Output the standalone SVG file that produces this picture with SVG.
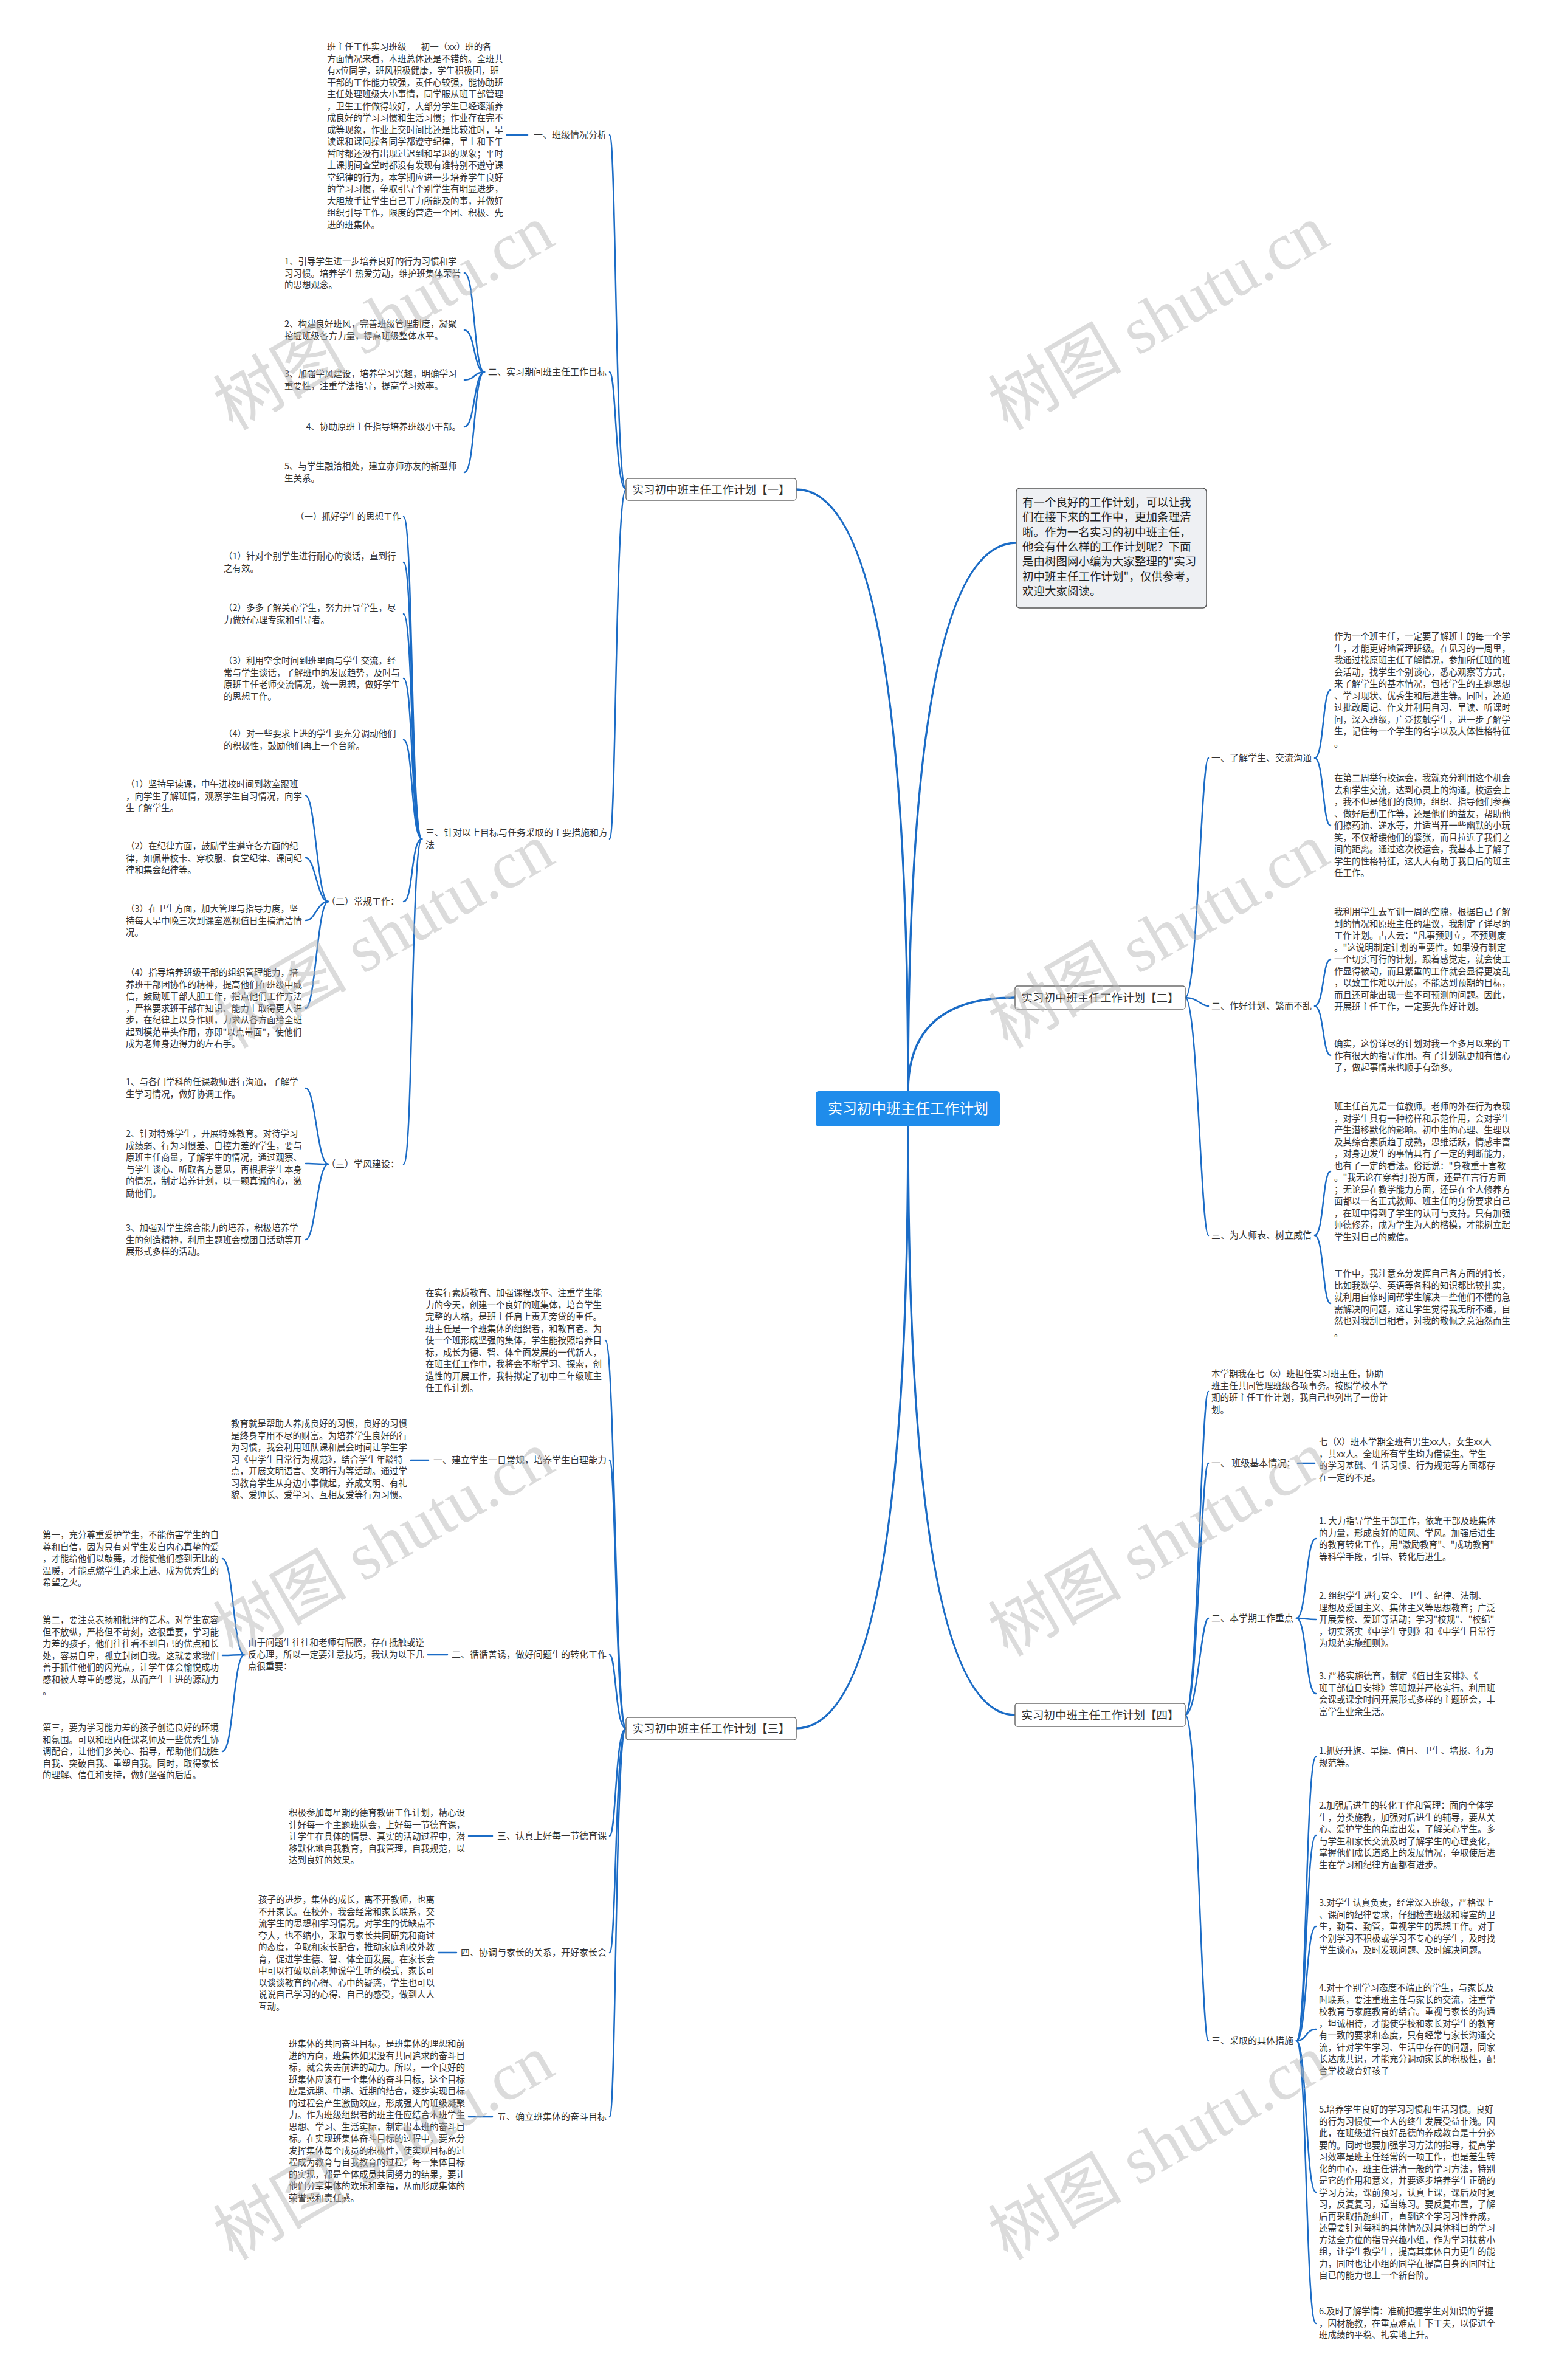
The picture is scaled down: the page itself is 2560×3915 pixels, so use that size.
<svg xmlns="http://www.w3.org/2000/svg" width="2560" height="3915" viewBox="0 0 2560 3915">
<style>
.t{font-family:"Noto Sans CJK SC","Noto Sans",sans-serif;font-size:14.5px;fill:#333}
.lb{font-family:"Noto Sans CJK SC","Noto Sans",sans-serif;font-size:15px;fill:#333}
.e{text-anchor:end}
.c{fill:none;stroke:#1b6cc6;stroke-width:2.5;stroke-linecap:round}
.c1{fill:none;stroke:#1b6cc6;stroke-width:3.5;stroke-linecap:round}
.bn{fill:#fff;stroke:#6b6b6b;stroke-width:1.5}
.bt{font-family:"Noto Sans CJK SC",sans-serif;font-size:18.5px;fill:#333;text-anchor:middle}
.wm{font-family:"Liberation Serif","Noto Sans CJK SC",serif;font-size:110px;fill:#b8b8b8;opacity:.5;text-anchor:middle}
</style>
<rect width="2560" height="3915" fill="#fff"/>
<g id="connectors">
<path class="c1" d="M1494,1795 Q1494,805 1310,805"/>
<path class="c1" d="M1494,1795 Q1494,893 1672,893"/>
<path class="c1" d="M1494,1795 Q1494,1641 1670,1641"/>
<path class="c1" d="M1494,1853 Q1494,2843 1310,2843"/>
<path class="c1" d="M1494,1853 Q1494,2821 1670,2821"/>
<path class="c" d="M1030,805 C1012,805 1014,222 1003,222"/>
<path class="c" d="M1030,805 C1012,805 1014,612 1003,612"/>
<path class="c" d="M1030,805 C1012,805 1014,1380 1003,1380"/>
<path class="c" d="M834,222 H868"/>
<path class="c" d="M797,612 C779,612 782,449 764,449"/>
<path class="c" d="M797,612 C779,612 782,543 764,543"/>
<path class="c" d="M797,612 C779,612 782,625 764,625"/>
<path class="c" d="M797,612 C779,612 782,702 764,702"/>
<path class="c" d="M797,612 C779,612 782,777 764,777"/>
<path class="c" d="M694,1380 C676,1380 680,850 664,850"/>
<path class="c" d="M694,1380 C676,1380 680,925 664,925"/>
<path class="c" d="M694,1380 C676,1380 680,1010 664,1010"/>
<path class="c" d="M694,1380 C676,1380 680,1116 664,1116"/>
<path class="c" d="M694,1380 C676,1380 680,1217 664,1217"/>
<path class="c" d="M694,1380 C676,1380 680,1483 664,1483"/>
<path class="c" d="M694,1380 C676,1380 680,1915 664,1915"/>
<path class="c" d="M540,1483 C522,1483 519,1309 503,1309"/>
<path class="c" d="M540,1483 C522,1483 519,1411 503,1411"/>
<path class="c" d="M540,1483 C522,1483 519,1514 503,1514"/>
<path class="c" d="M540,1483 C522,1483 519,1658 503,1658"/>
<path class="c" d="M540,1915 C522,1915 519,1790 503,1790"/>
<path class="c" d="M540,1915 C522,1915 519,1914 503,1914"/>
<path class="c" d="M540,1915 C522,1915 519,2039 503,2039"/>
<path class="c" d="M1030,2843 C1012,2843 1012,2205 996,2205"/>
<path class="c" d="M1030,2843 C1012,2843 1014,2402 1003,2402"/>
<path class="c" d="M1030,2843 C1012,2843 1014,2722 1003,2722"/>
<path class="c" d="M1030,2843 C1012,2843 1014,3020 1003,3020"/>
<path class="c" d="M1030,2843 C1012,2843 1014,3212 1003,3212"/>
<path class="c" d="M1030,2843 C1012,2843 1014,3482 1003,3482"/>
<path class="c" d="M676,2402 H705"/>
<path class="c" d="M704,2722 H736"/>
<path class="c" d="M771,3020 H810"/>
<path class="c" d="M721,3212 H751"/>
<path class="c" d="M771,3482 H810"/>
<path class="c" d="M402,2722 C384,2722 384,2564 366,2564"/>
<path class="c" d="M402,2722 C384,2722 384,2723 366,2723"/>
<path class="c" d="M402,2722 C384,2722 384,2881 366,2881"/>
<path class="c" d="M1950,1641 C1970,1641 1976,1247 1988,1247"/>
<path class="c" d="M1950,1641 C1970,1641 1976,1655 1988,1655"/>
<path class="c" d="M1950,1641 C1970,1641 1976,2032 1988,2032"/>
<path class="c" d="M2163,1247 C2178,1247 2176,1135 2189,1135"/>
<path class="c" d="M2163,1247 C2178,1247 2176,1358 2189,1358"/>
<path class="c" d="M2163,1655 C2178,1655 2176,1578 2189,1578"/>
<path class="c" d="M2163,1655 C2178,1655 2176,1736 2189,1736"/>
<path class="c" d="M2163,2032 C2178,2032 2176,1927 2189,1927"/>
<path class="c" d="M2163,2032 C2178,2032 2176,2144 2189,2144"/>
<path class="c" d="M1950,2821 C1970,2821 1976,2289 1988,2289"/>
<path class="c" d="M1950,2821 C1970,2821 1976,2407 1988,2407"/>
<path class="c" d="M1950,2821 C1970,2821 1976,2662 1988,2662"/>
<path class="c" d="M1950,2821 C1970,2821 1976,3357 1988,3357"/>
<path class="c" d="M2135,2407 H2163"/>
<path class="c" d="M2133,2662 C2150,2662 2148,2531 2165,2531"/>
<path class="c" d="M2133,2662 C2150,2662 2148,2664 2165,2664"/>
<path class="c" d="M2133,2662 C2150,2662 2148,2786 2165,2786"/>
<path class="c" d="M2133,3357 C2150,3357 2148,2890 2165,2890"/>
<path class="c" d="M2133,3357 C2150,3357 2148,3019 2165,3019"/>
<path class="c" d="M2133,3357 C2150,3357 2148,3169 2165,3169"/>
<path class="c" d="M2133,3357 C2150,3357 2148,3338 2165,3338"/>
<path class="c" d="M2133,3357 C2150,3357 2148,3606 2165,3606"/>
<path class="c" d="M2133,3357 C2150,3357 2148,3822 2165,3822"/>
</g>
<g id="n-root"><rect x="1342" y="1795" width="303" height="58" rx="5" fill="#1f8ceb"/><text x="1494" y="1832" font-family="Noto Sans CJK SC,sans-serif" font-size="24" fill="#fff" text-anchor="middle">实习初中班主任工作计划</text></g>
<g id="n-b1"><rect class="bn" x="1030" y="787" width="280" height="36" rx="4"/><text class="bt" x="1170" y="812">实习初中班主任工作计划【一】</text></g>
<g id="n-b2"><rect class="bn" x="1670" y="1622" width="280" height="38" rx="4"/><text class="bt" x="1810" y="1648">实习初中班主任工作计划【二】</text></g>
<g id="n-b3"><rect class="bn" x="1030" y="2825" width="280" height="37" rx="4"/><text class="bt" x="1170" y="2850">实习初中班主任工作计划【三】</text></g>
<g id="n-b4"><rect class="bn" x="1670" y="2802" width="280" height="38" rx="4"/><text class="bt" x="1810" y="2828">实习初中班主任工作计划【四】</text></g>
<g id="n-intro"><rect x="1672" y="803" width="313" height="197" rx="6" fill="#eef0f3" stroke="#555" stroke-width="1.5"/><text font-family="Noto Sans CJK SC,sans-serif" font-size="18.5" fill="#222"><tspan x="1682" y="833">有一个良好的工作计划，可以让我</tspan><tspan x="1682" dy="24.3">们在接下来的工作中，更加条理清</tspan><tspan x="1682" dy="24.3">晰。作为一名实习的初中班主任，</tspan><tspan x="1682" dy="24.3">他会有什么样的工作计划呢？下面</tspan><tspan x="1682" dy="24.3">是由树图网小编为大家整理的"实习</tspan><tspan x="1682" dy="24.3">初中班主任工作计划"，仅供参考，</tspan><tspan x="1682" dy="24.3">欢迎大家阅读。</tspan></text></g>
<g id="n-1-1"><text class="lb e" x="998" y="227">一、班级情况分析</text></g>
<g id="n-1-1-p"><text class="t"><tspan x="538" y="82">班主任工作实习班级——初一（xx）班的各</tspan><tspan x="538" dy="19.5">方面情况来看，本班总体还是不错的。全班共</tspan><tspan x="538" dy="19.5">有x位同学，班风积极健康，学生积极团，班</tspan><tspan x="538" dy="19.5">干部的工作能力较强，责任心较强，能协助班</tspan><tspan x="538" dy="19.5">主任处理班级大小事情，同学服从班干部管理</tspan><tspan x="538" dy="19.5">，卫生工作做得较好，大部分学生已经逐渐养</tspan><tspan x="538" dy="19.5">成良好的学习习惯和生活习惯；作业存在完不</tspan><tspan x="538" dy="19.5">成等现象，作业上交时间比还是比较准时，早</tspan><tspan x="538" dy="19.5">读课和课间操各同学都遵守纪律，早上和下午</tspan><tspan x="538" dy="19.5">暂时都还没有出现过迟到和早退的现象；平时</tspan><tspan x="538" dy="19.5">上课期间查堂时都没有发现有谁特别不遵守课</tspan><tspan x="538" dy="19.5">堂纪律的行为，本学期应进一步培养学生良好</tspan><tspan x="538" dy="19.5">的学习习惯，争取引导个别学生有明显进步，</tspan><tspan x="538" dy="19.5">大胆放手让学生自己干力所能及的事，并做好</tspan><tspan x="538" dy="19.5">组织引导工作，限度的营造一个团、积极、先</tspan><tspan x="538" dy="19.5">进的班集体。</tspan></text></g>
<g id="n-1-2"><text class="lb e" x="998" y="617">二、实习期间班主任工作目标</text></g>
<g id="n-1-2-1"><text class="t"><tspan x="468" y="435">1、引导学生进一步培养良好的行为习惯和学</tspan><tspan x="468" dy="19.5">习习惯。培养学生热爱劳动，维护班集体荣誉</tspan><tspan x="468" dy="19.5">的思想观念。</tspan></text></g>
<g id="n-1-2-2"><text class="t"><tspan x="468" y="538">2、构建良好班风，完善班级管理制度，凝聚</tspan><tspan x="468" dy="19.5">挖掘班级各方力量，提高班级整体水平。</tspan></text></g>
<g id="n-1-2-3"><text class="t"><tspan x="468" y="620">3、加强学风建设，培养学习兴趣，明确学习</tspan><tspan x="468" dy="19.5">重要性，注重学法指导，提高学习效率。</tspan></text></g>
<g id="n-1-2-4"><text class="t e" x="758" y="707">4、协助原班主任指导培养班级小干部。</text></g>
<g id="n-1-2-5"><text class="t"><tspan x="468" y="772">5、与学生融洽相处，建立亦师亦友的新型师</tspan><tspan x="468" dy="19.5">生关系。</tspan></text></g>
<g id="n-1-3"><text class="lb"><tspan x="700" y="1375">三、针对以上目标与任务采取的主要措施和方</tspan><tspan x="700" dy="20">法</tspan></text></g>
<g id="n-1-3-a"><text class="t e" x="660" y="855">（一）抓好学生的思想工作</text></g>
<g id="n-1-3-1"><text class="t"><tspan x="368" y="920">（1）针对个别学生进行耐心的谈话，直到行</tspan><tspan x="368" dy="19.5">之有效。</tspan></text></g>
<g id="n-1-3-2"><text class="t"><tspan x="368" y="1005">（2）多多了解关心学生，努力开导学生，尽</tspan><tspan x="368" dy="19.5">力做好心理专家和引导者。</tspan></text></g>
<g id="n-1-3-3"><text class="t"><tspan x="368" y="1092">（3）利用空余时间到班里面与学生交流，经</tspan><tspan x="368" dy="19.5">常与学生谈话，了解班中的发展趋势，及时与</tspan><tspan x="368" dy="19.5">原班主任老师交流情况，统一思想，做好学生</tspan><tspan x="368" dy="19.5">的思想工作。</tspan></text></g>
<g id="n-1-3-4"><text class="t"><tspan x="368" y="1212">（4）对一些要求上进的学生要充分调动他们</tspan><tspan x="368" dy="19.5">的积极性，鼓励他们再上一个台阶。</tspan></text></g>
<g id="n-1-3-b"><text class="lb e" x="657" y="1488">（二）常规工作：</text></g>
<g id="n-1-3-b1"><text class="t"><tspan x="207" y="1295">（1）坚持早读课，中午进校时间到教室跟班</tspan><tspan x="207" dy="19.5">，向学生了解班情，观察学生自习情况，向学</tspan><tspan x="207" dy="19.5">生了解学生。</tspan></text></g>
<g id="n-1-3-b2"><text class="t"><tspan x="207" y="1397">（2）在纪律方面，鼓励学生遵守各方面的纪</tspan><tspan x="207" dy="19.5">律，如佩带校卡、穿校服、食堂纪律、课间纪</tspan><tspan x="207" dy="19.5">律和集会纪律等。</tspan></text></g>
<g id="n-1-3-b3"><text class="t"><tspan x="207" y="1500">（3）在卫生方面，加大管理与指导力度，坚</tspan><tspan x="207" dy="19.5">持每天早中晚三次到课室巡视值日生搞清洁情</tspan><tspan x="207" dy="19.5">况。</tspan></text></g>
<g id="n-1-3-b4"><text class="t"><tspan x="207" y="1605">（4）指导培养班级干部的组织管理能力，培</tspan><tspan x="207" dy="19.5">养班干部团协作的精神，提高他们在班级中威</tspan><tspan x="207" dy="19.5">信，鼓励班干部大胆工作，指点他们工作方法</tspan><tspan x="207" dy="19.5">，严格要求班干部在知识、能力上取得更大进</tspan><tspan x="207" dy="19.5">步，在纪律上以身作则，力求从各方面给全班</tspan><tspan x="207" dy="19.5">起到模范带头作用，亦即"以点带面"，使他们</tspan><tspan x="207" dy="19.5">成为老师身边得力的左右手。</tspan></text></g>
<g id="n-1-3-c"><text class="lb e" x="657" y="1920">（三）学风建设：</text></g>
<g id="n-1-3-c1"><text class="t"><tspan x="207" y="1785">1、与各门学科的任课教师进行沟通，了解学</tspan><tspan x="207" dy="19.5">生学习情况，做好协调工作。</tspan></text></g>
<g id="n-1-3-c2"><text class="t"><tspan x="207" y="1870">2、针对特殊学生，开展特殊教育。对待学习</tspan><tspan x="207" dy="19.5">成绩弱、行为习惯差、自控力差的学生，要与</tspan><tspan x="207" dy="19.5">原班主任商量，了解学生的情况，通过观察、</tspan><tspan x="207" dy="19.5">与学生谈心、听取各方意见，再根据学生本身</tspan><tspan x="207" dy="19.5">的情况，制定培养计划，以一颗真诚的心，激</tspan><tspan x="207" dy="19.5">励他们。</tspan></text></g>
<g id="n-1-3-c3"><text class="t"><tspan x="207" y="2025">3、加强对学生综合能力的培养，积极培养学</tspan><tspan x="207" dy="19.5">生的创造精神，利用主题班会或团日活动等开</tspan><tspan x="207" dy="19.5">展形式多样的活动。</tspan></text></g>
<g id="n-3-0"><text class="t"><tspan x="700" y="2132">在实行素质教育、加强课程改革、注重学生能</tspan><tspan x="700" dy="19.5">力的今天，创建一个良好的班集体，培育学生</tspan><tspan x="700" dy="19.5">完整的人格，是班主任肩上责无旁贷的重任。</tspan><tspan x="700" dy="19.5">班主任是一个班集体的组织者，和教育者。为</tspan><tspan x="700" dy="19.5">使一个班形成坚强的集体，学生能按照培养目</tspan><tspan x="700" dy="19.5">标，成长为德、智、体全面发展的一代新人，</tspan><tspan x="700" dy="19.5">在班主任工作中，我将会不断学习、探索，创</tspan><tspan x="700" dy="19.5">造性的开展工作，我特拟定了初中二年级班主</tspan><tspan x="700" dy="19.5">任工作计划。</tspan></text></g>
<g id="n-3-1"><text class="lb e" x="998" y="2407">一、建立学生一日常规，培养学生自理能力</text></g>
<g id="n-3-1-p"><text class="t"><tspan x="380" y="2347">教育就是帮助人养成良好的习惯，良好的习惯</tspan><tspan x="380" dy="19.5">是终身享用不尽的财富。为培养学生良好的行</tspan><tspan x="380" dy="19.5">为习惯，我会利用班队课和晨会时间让学生学</tspan><tspan x="380" dy="19.5">习《中学生日常行为规范》，结合学生年龄特</tspan><tspan x="380" dy="19.5">点，开展文明语言、文明行为等活动。通过学</tspan><tspan x="380" dy="19.5">习教育学生从身边小事做起，养成文明、有礼</tspan><tspan x="380" dy="19.5">貌、爱师长、爱学习、互相友爱等行为习惯。</tspan></text></g>
<g id="n-3-2"><text class="lb e" x="998" y="2727">二、循循善诱，做好问题生的转化工作</text></g>
<g id="n-3-2-p"><text class="t"><tspan x="408" y="2707">由于问题生往往和老师有隔膜，存在抵触或逆</tspan><tspan x="408" dy="19.5">反心理，所以一定要注意技巧，我认为以下几</tspan><tspan x="408" dy="19.5">点很重要：</tspan></text></g>
<g id="n-3-2-1"><text class="t"><tspan x="70" y="2530">第一，充分尊重爱护学生，不能伤害学生的自</tspan><tspan x="70" dy="19.5">尊和自信，因为只有对学生发自内心真挚的爱</tspan><tspan x="70" dy="19.5">，才能给他们以鼓舞，才能使他们感到无比的</tspan><tspan x="70" dy="19.5">温暖，才能点燃学生追求上进、成为优秀生的</tspan><tspan x="70" dy="19.5">希望之火。</tspan></text></g>
<g id="n-3-2-2"><text class="t"><tspan x="70" y="2670">第二，要注意表扬和批评的艺术。对学生宽容</tspan><tspan x="70" dy="19.5">但不放纵，严格但不苛刻，这很重要，学习能</tspan><tspan x="70" dy="19.5">力差的孩子，他们往往看不到自己的优点和长</tspan><tspan x="70" dy="19.5">处，容易自卑，孤立封闭自我。这就要求我们</tspan><tspan x="70" dy="19.5">善于抓住他们的闪光点，让学生体会愉悦成功</tspan><tspan x="70" dy="19.5">感和被人尊重的感觉，从而产生上进的源动力</tspan><tspan x="70" dy="19.5">。</tspan></text></g>
<g id="n-3-2-3"><text class="t"><tspan x="70" y="2847">第三，要为学习能力差的孩子创造良好的环境</tspan><tspan x="70" dy="19.5">和氛围。可以和班内任课老师及一些优秀生协</tspan><tspan x="70" dy="19.5">调配合，让他们多关心、指导，帮助他们战胜</tspan><tspan x="70" dy="19.5">自我、突破自我、重塑自我。同时，取得家长</tspan><tspan x="70" dy="19.5">的理解、信任和支持，做好坚强的后盾。</tspan></text></g>
<g id="n-3-3"><text class="lb e" x="998" y="3025">三、认真上好每一节德育课</text></g>
<g id="n-3-3-p"><text class="t"><tspan x="475" y="2987">积极参加每星期的德育教研工作计划，精心设</tspan><tspan x="475" dy="19.5">计好每一个主题班队会，上好每一节德育课，</tspan><tspan x="475" dy="19.5">让学生在具体的情景、真实的活动过程中，潜</tspan><tspan x="475" dy="19.5">移默化地自我教育，自我管理，自我规范，以</tspan><tspan x="475" dy="19.5">达到良好的效果。</tspan></text></g>
<g id="n-3-4"><text class="lb e" x="998" y="3217">四、协调与家长的关系，开好家长会</text></g>
<g id="n-3-4-p"><text class="t"><tspan x="425" y="3130">孩子的进步，集体的成长，离不开教师，也离</tspan><tspan x="425" dy="19.5">不开家长。在校外，我会经常和家长联系，交</tspan><tspan x="425" dy="19.5">流学生的思想和学习情况。对学生的优缺点不</tspan><tspan x="425" dy="19.5">夸大，也不缩小，采取与家长共同研究和商讨</tspan><tspan x="425" dy="19.5">的态度，争取和家长配合，推动家庭和校外教</tspan><tspan x="425" dy="19.5">育，促进学生德、智、体全面发展。在家长会</tspan><tspan x="425" dy="19.5">中可以打破以前老师说学生听的模式，家长可</tspan><tspan x="425" dy="19.5">以谈谈教育的心得、心中的疑惑，学生也可以</tspan><tspan x="425" dy="19.5">说说自己学习的心得、自己的感受，做到人人</tspan><tspan x="425" dy="19.5">互动。</tspan></text></g>
<g id="n-3-5"><text class="lb e" x="998" y="3487">五、确立班集体的奋斗目标</text></g>
<g id="n-3-5-p"><text class="t"><tspan x="475" y="3367">班集体的共同奋斗目标，是班集体的理想和前</tspan><tspan x="475" dy="19.5">进的方向，班集体如果没有共同追求的奋斗目</tspan><tspan x="475" dy="19.5">标，就会失去前进的动力。所以，一个良好的</tspan><tspan x="475" dy="19.5">班集体应该有一个集体的奋斗目标，这个目标</tspan><tspan x="475" dy="19.5">应是远期、中期、近期的结合，逐步实现目标</tspan><tspan x="475" dy="19.5">的过程会产生激励效应，形成强大的班级凝聚</tspan><tspan x="475" dy="19.5">力。作为班级组织者的班主任应结合本班学生</tspan><tspan x="475" dy="19.5">思想、学习、生活实际，制定出本班的奋斗目</tspan><tspan x="475" dy="19.5">标。在实现班集体奋斗目标的过程中，要充分</tspan><tspan x="475" dy="19.5">发挥集体每个成员的积极性，使实现目标的过</tspan><tspan x="475" dy="19.5">程成为教育与自我教育的过程，每一集体目标</tspan><tspan x="475" dy="19.5">的实现，都是全体成员共同努力的结果，要让</tspan><tspan x="475" dy="19.5">他们分享集体的欢乐和幸福，从而形成集体的</tspan><tspan x="475" dy="19.5">荣誉感和责任感。</tspan></text></g>
<g id="n-2-1"><text class="lb" x="1993" y="1252">一、了解学生、交流沟通</text></g>
<g id="n-2-1-1"><text class="t"><tspan x="2195" y="1052">作为一个班主任，一定要了解班上的每一个学</tspan><tspan x="2195" dy="19.5">生，才能更好地管理班级。在见习的一周里，</tspan><tspan x="2195" dy="19.5">我通过找原班主任了解情况，参加所任班的班</tspan><tspan x="2195" dy="19.5">会活动，找学生个别谈心，悉心观察等方式，</tspan><tspan x="2195" dy="19.5">来了解学生的基本情况，包括学生的主题思想</tspan><tspan x="2195" dy="19.5">、学习现状、优秀生和后进生等。同时，还通</tspan><tspan x="2195" dy="19.5">过批改周记、作文并利用自习、早读、听课时</tspan><tspan x="2195" dy="19.5">间，深入班级，广泛接触学生，进一步了解学</tspan><tspan x="2195" dy="19.5">生，记住每一个学生的名字以及大体性格特征</tspan><tspan x="2195" dy="19.5">。</tspan></text></g>
<g id="n-2-1-2"><text class="t"><tspan x="2195" y="1285">在第二周举行校运会，我就充分利用这个机会</tspan><tspan x="2195" dy="19.5">去和学生交流，达到心灵上的沟通。校运会上</tspan><tspan x="2195" dy="19.5">，我不但是他们的良师，组织、指导他们参赛</tspan><tspan x="2195" dy="19.5">、做好后勤工作等，还是他们的益友，帮助他</tspan><tspan x="2195" dy="19.5">们擦药油、递水等，并适当开一些幽默的小玩</tspan><tspan x="2195" dy="19.5">笑，不仅舒缓他们的紧张，而且拉近了我们之</tspan><tspan x="2195" dy="19.5">间的距离。通过这次校运会，我基本上了解了</tspan><tspan x="2195" dy="19.5">学生的性格特征，这大大有助于我日后的班主</tspan><tspan x="2195" dy="19.5">任工作。</tspan></text></g>
<g id="n-2-2"><text class="lb" x="1993" y="1660">二、作好计划、繁而不乱</text></g>
<g id="n-2-2-1"><text class="t"><tspan x="2195" y="1505">我利用学生去军训一周的空隙，根据自己了解</tspan><tspan x="2195" dy="19.5">到的情况和原班主任的建议，我制定了详尽的</tspan><tspan x="2195" dy="19.5">工作计划。古人云："凡事预则立，不预则废</tspan><tspan x="2195" dy="19.5">。"这说明制定计划的重要性。如果没有制定</tspan><tspan x="2195" dy="19.5">一个切实可行的计划，跟着感觉走，就会使工</tspan><tspan x="2195" dy="19.5">作显得被动，而且繁重的工作就会显得更凌乱</tspan><tspan x="2195" dy="19.5">，以致工作难以开展，不能达到预期的目标，</tspan><tspan x="2195" dy="19.5">而且还可能出现一些不可预测的问题。因此，</tspan><tspan x="2195" dy="19.5">开展班主任工作，一定要先作好计划。</tspan></text></g>
<g id="n-2-2-2"><text class="t"><tspan x="2195" y="1722">确实，这份详尽的计划对我一个多月以来的工</tspan><tspan x="2195" dy="19.5">作有很大的指导作用。有了计划就更加有信心</tspan><tspan x="2195" dy="19.5">了，做起事情来也顺手有劲多。</tspan></text></g>
<g id="n-2-3"><text class="lb" x="1993" y="2037">三、为人师表、树立威信</text></g>
<g id="n-2-3-1"><text class="t"><tspan x="2195" y="1825">班主任首先是一位教师。老师的外在行为表现</tspan><tspan x="2195" dy="19.5">，对学生具有一种榜样和示范作用，会对学生</tspan><tspan x="2195" dy="19.5">产生潜移默化的影响。初中生的心理、生理以</tspan><tspan x="2195" dy="19.5">及其综合素质趋于成熟，思维活跃，情感丰富</tspan><tspan x="2195" dy="19.5">，对身边发生的事情具有了一定的判断能力，</tspan><tspan x="2195" dy="19.5">也有了一定的看法。俗话说："身教重于言教</tspan><tspan x="2195" dy="19.5">。"我无论在穿着打扮方面，还是在言行方面</tspan><tspan x="2195" dy="19.5">；无论是在教学能力方面，还是在个人修养方</tspan><tspan x="2195" dy="19.5">面都以一名正式教师、班主任的身份要求自己</tspan><tspan x="2195" dy="19.5">，在班中得到了学生的认可与支持。只有加强</tspan><tspan x="2195" dy="19.5">师德修养，成为学生为人的楷模，才能树立起</tspan><tspan x="2195" dy="19.5">学生对自己的威信。</tspan></text></g>
<g id="n-2-3-2"><text class="t"><tspan x="2195" y="2100">工作中，我注意充分发挥自己各方面的特长，</tspan><tspan x="2195" dy="19.5">比如我数学、英语等各科的知识都比较扎实，</tspan><tspan x="2195" dy="19.5">就利用自修时间帮学生解决一些他们不懂的急</tspan><tspan x="2195" dy="19.5">需解决的问题，这让学生觉得我无所不通，自</tspan><tspan x="2195" dy="19.5">然也对我刮目相看，对我的敬佩之意油然而生</tspan><tspan x="2195" dy="19.5">。</tspan></text></g>
<g id="n-4-0"><text class="t"><tspan x="1993" y="2265">本学期我在七（x）班担任实习班主任，协助</tspan><tspan x="1993" dy="19.5">班主任共同管理班级各项事务。按照学校本学</tspan><tspan x="1993" dy="19.5">期的班主任工作计划，我自己也列出了一份计</tspan><tspan x="1993" dy="19.5">划。</tspan></text></g>
<g id="n-4-1"><text class="lb" x="1993" y="2412">一、 班级基本情况：</text></g>
<g id="n-4-1-p"><text class="t"><tspan x="2170" y="2377">七（X）班本学期全班有男生xx人，女生xx人</tspan><tspan x="2170" dy="19.5">，共xx人。全班所有学生均为借读生。学生</tspan><tspan x="2170" dy="19.5">的学习基础、生活习惯、行为规范等方面都存</tspan><tspan x="2170" dy="19.5">在一定的不足。</tspan></text></g>
<g id="n-4-2"><text class="lb" x="1993" y="2667">二、本学期工作重点</text></g>
<g id="n-4-2-1"><text class="t"><tspan x="2170" y="2507">1. 大力指导学生干部工作，依靠干部及班集体</tspan><tspan x="2170" dy="19.5">的力量，形成良好的班风、学风。加强后进生</tspan><tspan x="2170" dy="19.5">的教育转化工作，用"激励教育"、"成功教育"</tspan><tspan x="2170" dy="19.5">等科学手段，引导、转化后进生。</tspan></text></g>
<g id="n-4-2-2"><text class="t"><tspan x="2170" y="2630">2. 组织学生进行安全、卫生、纪律、法制、</tspan><tspan x="2170" dy="19.5">理想及爱国主义、集体主义等思想教育；广泛</tspan><tspan x="2170" dy="19.5">开展爱校、爱班等活动；学习"校规"、"校纪"</tspan><tspan x="2170" dy="19.5">，切实落实《中学生守则》和《中学生日常行</tspan><tspan x="2170" dy="19.5">为规范实施细则》。</tspan></text></g>
<g id="n-4-2-3"><text class="t"><tspan x="2170" y="2762">3. 严格实施德育，制定《值日生安排》、《</tspan><tspan x="2170" dy="19.5">班干部值日安排》等班规并严格实行。利用班</tspan><tspan x="2170" dy="19.5">会课或课余时间开展形式多样的主题班会，丰</tspan><tspan x="2170" dy="19.5">富学生业余生活。</tspan></text></g>
<g id="n-4-3"><text class="lb" x="1993" y="3362">三、采取的具体措施</text></g>
<g id="n-4-3-1"><text class="t"><tspan x="2170" y="2885">1.抓好升旗、早操、值日、卫生、墙报、行为</tspan><tspan x="2170" dy="19.5">规范等。</tspan></text></g>
<g id="n-4-3-2"><text class="t"><tspan x="2170" y="2975">2.加强后进生的转化工作和管理：面向全体学</tspan><tspan x="2170" dy="19.5">生，分类施教，加强对后进生的辅导，要从关</tspan><tspan x="2170" dy="19.5">心、爱护学生的角度出发，了解关心学生。多</tspan><tspan x="2170" dy="19.5">与学生和家长交流及时了解学生的心理变化，</tspan><tspan x="2170" dy="19.5">掌握他们成长道路上的发展情况，争取使后进</tspan><tspan x="2170" dy="19.5">生在学习和纪律方面都有进步。</tspan></text></g>
<g id="n-4-3-3"><text class="t"><tspan x="2170" y="3135">3.对学生认真负责，经常深入班级，严格课上</tspan><tspan x="2170" dy="19.5">、课间的纪律要求，仔细检查班级和寝室的卫</tspan><tspan x="2170" dy="19.5">生，勤看、勤管，重视学生的思想工作。对于</tspan><tspan x="2170" dy="19.5">个别学习不积极或学习不专心的学生，及时找</tspan><tspan x="2170" dy="19.5">学生谈心，及时发现问题、及时解决问题。</tspan></text></g>
<g id="n-4-3-4"><text class="t"><tspan x="2170" y="3275">4.对于个别学习态度不端正的学生，与家长及</tspan><tspan x="2170" dy="19.5">时联系，要注重班主任与家长的交流，注重学</tspan><tspan x="2170" dy="19.5">校教育与家庭教育的结合。重视与家长的沟通</tspan><tspan x="2170" dy="19.5">，坦诚相待，才能使学校和家长对学生的教育</tspan><tspan x="2170" dy="19.5">有一致的要求和态度，只有经常与家长沟通交</tspan><tspan x="2170" dy="19.5">流，针对学生学习、生活中存在的问题，同家</tspan><tspan x="2170" dy="19.5">长达成共识，才能充分调动家长的积极性，配</tspan><tspan x="2170" dy="19.5">合学校教育好孩子</tspan></text></g>
<g id="n-4-3-5"><text class="t"><tspan x="2170" y="3475">5.培养学生良好的学习习惯和生活习惯。良好</tspan><tspan x="2170" dy="19.5">的行为习惯使一个人的终生发展受益非浅。因</tspan><tspan x="2170" dy="19.5">此，在班级进行良好品德的养成教育是十分必</tspan><tspan x="2170" dy="19.5">要的。同时也要加强学习方法的指导，提高学</tspan><tspan x="2170" dy="19.5">习效率是班主任经常的一项工作，也是差生转</tspan><tspan x="2170" dy="19.5">化的中心，班主任讲清一般的学习方法，特别</tspan><tspan x="2170" dy="19.5">是它的作用和意义，并要逐步培养学生正确的</tspan><tspan x="2170" dy="19.5">学习方法，课前预习，认真上课，课后及时复</tspan><tspan x="2170" dy="19.5">习，反复复习，适当练习。要反复布置，了解</tspan><tspan x="2170" dy="19.5">后再采取措施纠正，直到这个学习习性养成，</tspan><tspan x="2170" dy="19.5">还需要针对每科的具体情况对具体科目的学习</tspan><tspan x="2170" dy="19.5">方法全方位的指导兴趣小组，作为学习扶贫小</tspan><tspan x="2170" dy="19.5">组，让学生教学生，提高其集体自力更生的能</tspan><tspan x="2170" dy="19.5">力，同时也让小组的同学在提高自身的同时让</tspan><tspan x="2170" dy="19.5">自已的能力也上一个新台阶。</tspan></text></g>
<g id="n-4-3-6"><text class="t"><tspan x="2170" y="3807">6.及时了解学情：准确把握学生对知识的掌握</tspan><tspan x="2170" dy="19.5">，因材施教，在重点难点上下工夫，以促进全</tspan><tspan x="2170" dy="19.5">班成绩的平稳、扎实地上升。</tspan></text></g>
<g id="watermarks">
<text class="wm" transform="translate(650,555) rotate(-30)">树图 shutu.cn</text>
<text class="wm" transform="translate(1925,555) rotate(-30)">树图 shutu.cn</text>
<text class="wm" transform="translate(650,1572) rotate(-30)">树图 shutu.cn</text>
<text class="wm" transform="translate(1925,1572) rotate(-30)">树图 shutu.cn</text>
<text class="wm" transform="translate(650,2572) rotate(-30)">树图 shutu.cn</text>
<text class="wm" transform="translate(1925,2572) rotate(-30)">树图 shutu.cn</text>
<text class="wm" transform="translate(650,3565) rotate(-30)">树图 shutu.cn</text>
<text class="wm" transform="translate(1925,3565) rotate(-30)">树图 shutu.cn</text>
</g>
</svg>
